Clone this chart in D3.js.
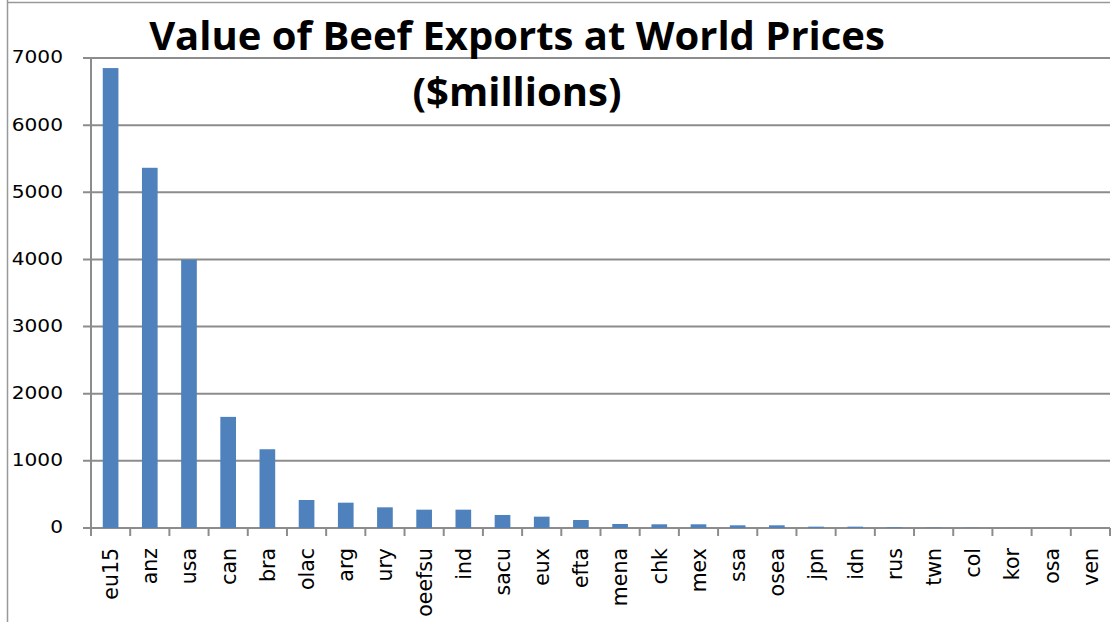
<!DOCTYPE html>
<html>
<head>
<meta charset="utf-8">
<script src="https://cdn.jsdelivr.net/npm/d3@7"></script>
<style>
  html, body { margin: 0; padding: 0; background: #fff; }
  svg { display: block; }
</style>
</head>
<body>
<svg id="chart" width="1112" height="622"></svg>
<script>
const categories = ["eu15","anz","usa","can","bra","olac","arg","ury","oeefsu","ind","sacu","eux","efta","mena","chk","mex","ssa","osea","jpn","idn","rus","twn","col","kor","osa","ven"];
const values = [6850, 5365, 3995, 1655, 1173, 417, 377, 308, 273, 273, 194, 169, 119, 60, 55, 55, 40, 40, 20, 20, 10, 5, 3, 1, 0.5, 0];
const yTicks = [0, 1000, 2000, 3000, 4000, 5000, 6000, 7000];
const titleLines = ["Value of Beef Exports at World Prices", "($millions)"];

const W = 1112, H = 622;
const m = { left: 91, right: 2, top: 58, bottom: 94 };
const svg = d3.select("#chart");
const gridColor = "#8c8c8c";
const font = "'DejaVu Sans', sans-serif";

svg.append("rect").attr("width", W).attr("height", H).attr("fill", "#fff");

// outer frame fragments (top and left)
svg.append("line").attr("x1", 7).attr("x2", 1110).attr("y1", 2.5).attr("y2", 2.5)
  .attr("stroke", "#999").attr("stroke-width", 1.5);
svg.append("line").attr("x1", 7.5).attr("x2", 7.5).attr("y1", 0).attr("y2", H)
  .attr("stroke", "#999").attr("stroke-width", 1.5);

const x = d3.scaleBand().domain(categories)
  .range([m.left, W - m.right]).paddingInner(0.6).paddingOuter(0.3);
const y = d3.scaleLinear().domain([0, 7000]).range([H - m.bottom, m.top]);

// gridlines
svg.append("g").selectAll("line").data(yTicks).join("line")
  .attr("x1", m.left - 8).attr("x2", W - m.right)
  .attr("y1", d => y(d)).attr("y2", d => y(d))
  .attr("stroke", gridColor).attr("stroke-width", 2);

// y axis line
svg.append("line").attr("x1", m.left).attr("x2", m.left)
  .attr("y1", y(7000)).attr("y2", y(0))
  .attr("stroke", gridColor).attr("stroke-width", 2);

// y labels
svg.append("g").selectAll("text").data(yTicks).join("text")
  .attr("transform", d => `translate(63,${y(d)}) scale(1.12,1)`)
  .attr("dy", "0.3em")
  .attr("text-anchor", "end")
  .attr("font-family", font).attr("font-size", 18).attr("fill", "#000")
  .text(d => d);

// bars
svg.append("g").selectAll("rect").data(categories).join("rect")
  .attr("x", d => x(d))
  .attr("width", x.bandwidth())
  .attr("y", (d, i) => y(values[i]))
  .attr("height", (d, i) => y(0) - y(values[i]))
  .attr("fill", "#4f81bd");

// x ticks at category boundaries
const step = x.step();
const bounds = d3.range(categories.length + 1).map(i => m.left + i * step);
svg.append("g").selectAll("line").data(bounds).join("line")
  .attr("x1", d => d).attr("x2", d => d)
  .attr("y1", y(0)).attr("y2", y(0) + 8)
  .attr("stroke", gridColor).attr("stroke-width", 2);

// x labels
svg.append("g").selectAll("text").data(categories).join("text")
  .attr("transform", d => `translate(${x(d) + x.bandwidth() / 2},${y(0) + 20}) rotate(-90)`)
  .attr("dy", "0.36em")
  .attr("text-anchor", "end")
  .attr("font-family", font).attr("font-size", 20.5).attr("fill", "#000")
  .text(d => d);

// title
svg.append("g").selectAll("text").data(titleLines).join("text")
  .attr("x", 517).attr("y", (d, i) => 50 + i * 56)
  .attr("text-anchor", "middle")
  .attr("font-family", "'Open Sans', sans-serif")
  .attr("font-weight", "bold").attr("font-size", 40).attr("fill", "#000")
  .text(d => d);
</script>
</body>
</html>
